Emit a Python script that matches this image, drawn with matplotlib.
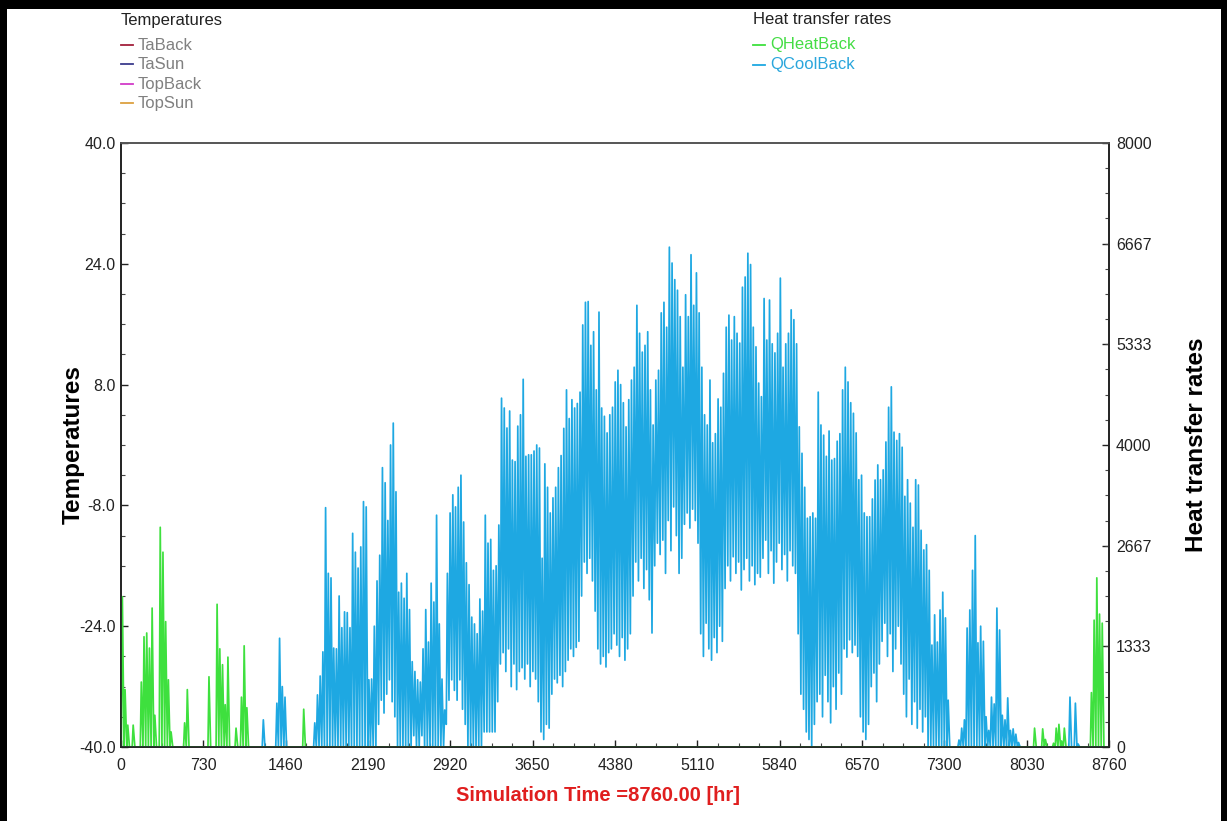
import numpy as np
import matplotlib.pyplot as plt
from matplotlib.lines import Line2D
from matplotlib.patches import Rectangle
from matplotlib.ticker import MultipleLocator
from matplotlib import font_manager as fm

# narrow face if one is installed, else plain Liberation Sans
_names = {f.name for f in fm.fontManager.ttflist}
if 'Liberation Sans Narrow' in _names:
    NARROW, TICK_SIZE, LEG_SIZE, XLAB_SIZE = ['Liberation Sans Narrow', 'DejaVu Sans'], 12.5, 13, 16
else:
    NARROW, TICK_SIZE, LEG_SIZE, XLAB_SIZE = ['Liberation Sans', 'DejaVu Sans'], 11.5, 12, 14.5
BOLD = ['Liberation Sans', 'DejaVu Sans']

# ---- data (one value per day of the year) ----
temp_names = ['TaBack', 'TaSun', 'TopBack', 'TopSun']
temp_colors = ['#a3203c', '#3c3c8c', '#d23cc8', '#dca040']
heat_names = ['QHeatBack', 'QCoolBack']
heat_colors = ['#3ee03e', '#1ea8e2']

x_ticks = [0, 730, 1460, 2190, 2920, 3650, 4380, 5110, 5840, 6570, 7300, 8030, 8760]
temp_ticks = [-40.0, -24.0, -8.0, 8.0, 24.0, 40.0]
q_ticks = [0, 1333, 2667, 4000, 5333, 6667, 8000]

# daily peak of QCoolBack [W]
cool_peak = ([0] * 50 +
    [0, 0, 360, 0, 0, 0, 0, 580, 1440, 800] +                      # 50
    [660, 0, 0, 0, 0, 0, 0, 0, 0, 0] +                             # 60
    [0, 320, 690, 940, 1260, 3170, 2300, 2240, 1310, 1300] +       # 70
    [2000, 1580, 1790, 1780, 1580, 2830, 2580, 2370, 2650, 3250] + # 80
    [3180, 890, 900, 1600, 2200, 2540, 3700, 3500, 3000, 4000] +   # 90
    [4290, 3380, 2050, 2170, 1970, 2300, 1820, 1130, 1000, 890] +  # 100
    [860, 1300, 1820, 1390, 2170, 1920, 3070, 1630, 900, 490] +    # 110
    [2300, 3100, 3340, 3180, 3440, 3600, 2980, 2440, 2150, 1720] + # 120
    [1630, 1500, 1960, 1800, 3070, 2700, 2750, 2340, 2400, 2940] + # 130
    [4620, 4490, 4225, 4450, 3800, 3780, 4250, 4400, 4870, 3850] + # 140
    [3870, 3870, 3920, 4000, 3960, 2500, 3750, 3440, 3100, 3300] + # 150
    [3440, 3700, 3860, 4220, 4730, 4350, 4600, 4490, 4550, 4700] + # 160
    [5590, 5890, 5900, 5320, 5500, 4730, 5760, 4490, 4380, 4160] + # 170
    [4400, 4500, 4835, 4990, 4800, 4560, 4240, 4600, 4860, 5030] + # 180
    [5850, 5480, 5230, 5320, 5500, 4730, 4265, 4860, 4990, 5750] + # 190
    [5890, 5560, 6620, 6410, 6190, 6050, 5700, 5030, 5990, 5700] + # 200
    [6520, 5850, 6280, 5750, 5030, 4400, 4265, 4860, 4030, 4150] + # 210
    [4610, 4500, 4950, 5560, 5720, 5390, 5700, 5480, 5350, 6090] + # 220
    [6225, 6540, 6390, 5560, 5300, 4820, 4640, 5940, 5390, 5920] + # 230
    [5340, 5220, 5480, 6210, 5030, 5340, 5480, 5790, 5660, 5340] + # 240
    [4240, 3890, 3440, 3030, 3050, 3100, 3030, 4700, 4265, 4130] + # 250
    [3850, 4185, 3800, 3820, 4050, 4150, 4730, 5030, 4835, 4560] + # 260
    [4420, 4160, 3540, 3600, 3100, 3050, 3050, 3285, 3536, 3736] + # 270
    [3540, 3670, 4040, 4500, 4770, 4170, 4060, 4150, 3970, 3320] + # 280
    [3540, 3230, 2910, 3540, 3470, 2870, 2610, 2680, 2340, 1350] + # 290
    [1750, 1390, 1815, 2050, 1710, 620, 0, 0, 0, 93] +             # 300
    [250, 360, 1576, 1815, 2340, 2800, 1380, 1600, 1400, 400] +    # 310
    [220, 660, 570, 1840, 1550, 420, 360, 650, 220, 240] +         # 320
    [170, 60, 0, 0, 0, 0, 0, 0, 0, 0] +                            # 330
    [0] * 10 +                                                     # 340
    [660, 0, 580, 40, 0, 0, 0, 0, 0, 0] +                          # 350
    [0, 0, 0, 0, 0])                                               # 360

# daily minimum of QCoolBack [W]
cool_trough = ([0] * 90 +
    [0, 0, 0, 0, 0, 300, 620, 450, 700, 890] +                     # 90
    [600, 400, 0, 0, 0, 0, 0, 0, 150, 0] +                         # 100
    [0, 150, 0, 0, 0, 0, 0, 0, 0, 0] +                             # 110
    [300, 620, 890, 750, 620, 890, 500, 300, 0, 0] +               # 120
    [0, 0, 0, 0, 200, 200, 200, 200, 200, 600] +                   # 130
    [1100, 1250, 1000, 1300, 800, 1100, 760, 1000, 1050, 900] +    # 140
    [1100, 800, 1000, 900, 600, 200, 100, 300, 250, 700] +         # 150
    [900, 850, 950, 800, 1000, 1150, 1300, 1200, 1320, 1400] +     # 160
    [2000, 2450, 2300, 2500, 2200, 1800, 1300, 1100, 1200, 1060] + # 170
    [1250, 1300, 1500, 1350, 1200, 1450, 1150, 1300, 1500, 2000] + # 180
    [2450, 2200, 2500, 2100, 2350, 1950, 1510, 2400, 2700, 2550] + # 190
    [2740, 2300, 3000, 2600, 3180, 2800, 2300, 2500, 2950, 3100] + # 200
    [2900, 3150, 3000, 2700, 1500, 1200, 1640, 1300, 1150, 1450] + # 210
    [1250, 1600, 1400, 2100, 2400, 2200, 2520, 2300, 2450, 2080] + # 220
    [2350, 2500, 2200, 2400, 2150, 2300, 2250, 2500, 2740, 2300] + # 230
    [2600, 2170, 2450, 2700, 2350, 2550, 2200, 2600, 2400, 2300] + # 240
    [1500, 700, 500, 200, 100, 0, 300, 600, 700, 400] +            # 250
    [950, 600, 320, 800, 500, 980, 700, 1300, 1190, 1420] +        # 260
    [1250, 1350, 1200, 400, 200, 100, 300, 800, 980, 600] +        # 270
    [1100, 1400, 1640, 1200, 1500, 1000, 1300, 1600, 1100, 700] +  # 280
    [400, 900, 300, 600, 250, 500, 200, 400, 0, 0] +               # 290
    [0] * 65)

# daily peak of QHeatBack [W]
heat_peak = (
    [1990, 760, 290, 0, 290, 0, 0, 860, 1460, 1510] +              # 0
    [1310, 1840, 420, 0, 2910, 2580, 1660, 890, 200, 0] +          # 10
    [0, 0, 0, 320, 760, 0, 0, 0, 0, 0] +                           # 20
    [0, 0, 930, 0, 0, 1890, 1300, 1090, 560, 1190] +               # 30
    [0, 0, 250, 0, 660, 1340, 520, 0, 0, 0] +                      # 40
    [0] * 10 +                                                     # 50
    [0, 0, 0, 0, 0, 0, 0, 500, 0, 0] +                             # 60
    [0] * 260 +                                                    # 70
    [0, 0, 0, 0, 0, 0, 0, 250, 0, 0] +                             # 330
    [240, 100, 0, 0, 50, 250, 300, 80, 250, 0] +                   # 340
    [0, 0, 0, 0, 0, 0, 0, 0, 720, 1680] +                          # 350
    [2240, 1760, 1640, 0, 0])                                      # 360

day = np.arange(len(cool_peak))
t_cool = np.column_stack([day * 24 + 4, day * 24 + 14]).ravel()
q_cool = np.column_stack([cool_trough, cool_peak]).ravel()
t_heat = np.column_stack([day * 24 + 3, day * 24 + 12]).ravel()
q_heat = np.column_stack([np.zeros(len(day)), heat_peak]).ravel()

# ---- figure ----
W, H = 1227, 821
fig = plt.figure(figsize=(W / 100, H / 100), dpi=100)
ax = fig.add_axes([121 / W, 74 / H, 988 / W, 604 / H])
ax2 = ax.twinx()

for name, c in zip(temp_names, temp_colors):
    ax.plot([], [], color=c, lw=1.2, label=name)

ax2.plot(t_cool, q_cool, color=heat_colors[1], lw=1.25)
ax2.plot(t_heat, q_heat, color=heat_colors[0], lw=1.25)

ax.set_xlim(0, 8760)
ax.set_ylim(-40, 40)
ax2.set_ylim(0, 8000)

ax.set_xticks(x_ticks)
ax.set_xticklabels([str(v) for v in x_ticks])
ax.set_yticks(temp_ticks)
ax.set_yticklabels(['%.1f' % v for v in temp_ticks])
ax2.set_yticks(q_ticks)
ax2.set_yticklabels([str(v) for v in q_ticks])
ax.xaxis.set_minor_locator(MultipleLocator(182.5))
ax.yaxis.set_minor_locator(MultipleLocator(4))
ax2.yaxis.set_minor_locator(MultipleLocator(8000 / 24))

for a in (ax, ax2):
    a.tick_params(which='major', direction='in', length=5, width=1, colors='#222222', labelsize=TICK_SIZE)
    a.tick_params(which='minor', direction='in', length=3, width=0.8, colors='#444444')
    for lbl in a.get_xticklabels() + a.get_yticklabels():
        lbl.set_fontfamily(NARROW)
    for s in a.spines.values():
        s.set_linewidth(1.2)
        s.set_color('#222222')
    a.spines['top'].set_color('#555555')
ax.tick_params(axis='x', pad=8)
ax.tick_params(axis='y', pad=4)
ax2.tick_params(axis='y', pad=5)
ax.tick_params(axis='x', which='both', top=False)

ax.set_ylabel('Temperatures', fontsize=17.5, fontweight='bold', family=BOLD)
ax.yaxis.set_label_coords(-0.037, 0.5)
ax2.set_ylabel('Heat transfer rates', fontsize=17.5, fontweight='bold', family=BOLD)
ax2.yaxis.set_label_coords(1.077, 0.5)

fig.text(598 / W, 1 - 795 / H, 'Simulation Time =8760.00 [hr]', ha='center', va='center',
         color='#e01e1e', fontsize=XLAB_SIZE, fontweight='bold', family=NARROW)


# legends, laid out by hand in pixel positions
def legend_block(x0, title, names, colors, text_colors, ys):
    fig.text(x0 / W, 1 - 20 / H, title, ha='left', va='center', fontsize=LEG_SIZE,
             family=NARROW, color='#222222')
    for name, c, tc, y in zip(names, colors, text_colors, ys):
        fig.add_artist(Line2D([x0 / W, (x0 + 12) / W], [1 - y / H, 1 - y / H],
                              transform=fig.transFigure, color=c, lw=1.3))
        fig.text((x0 + 17) / W, 1 - y / H, name, ha='left', va='center', fontsize=LEG_SIZE,
                 family=NARROW, color=tc)


legend_block(121, 'Temperatures', temp_names, temp_colors, ['#808080'] * 4, [45, 64.5, 84, 103.5])
legend_block(753, 'Heat transfer rates', heat_names, heat_colors, ['#44dd44', '#2aa6dc'], [45, 65])

# black frame around the picture
for r in [(0, 1 - 9 / H, 1, 9 / H), (0, 0, 7 / W, 1), (1221 / W, 0, 6 / W, 1)]:
    fig.patches.append(Rectangle(r[:2], r[2], r[3], transform=fig.transFigure,
                                 facecolor='black', edgecolor='none', zorder=10))

fig.savefig('out.png', dpi=100)
